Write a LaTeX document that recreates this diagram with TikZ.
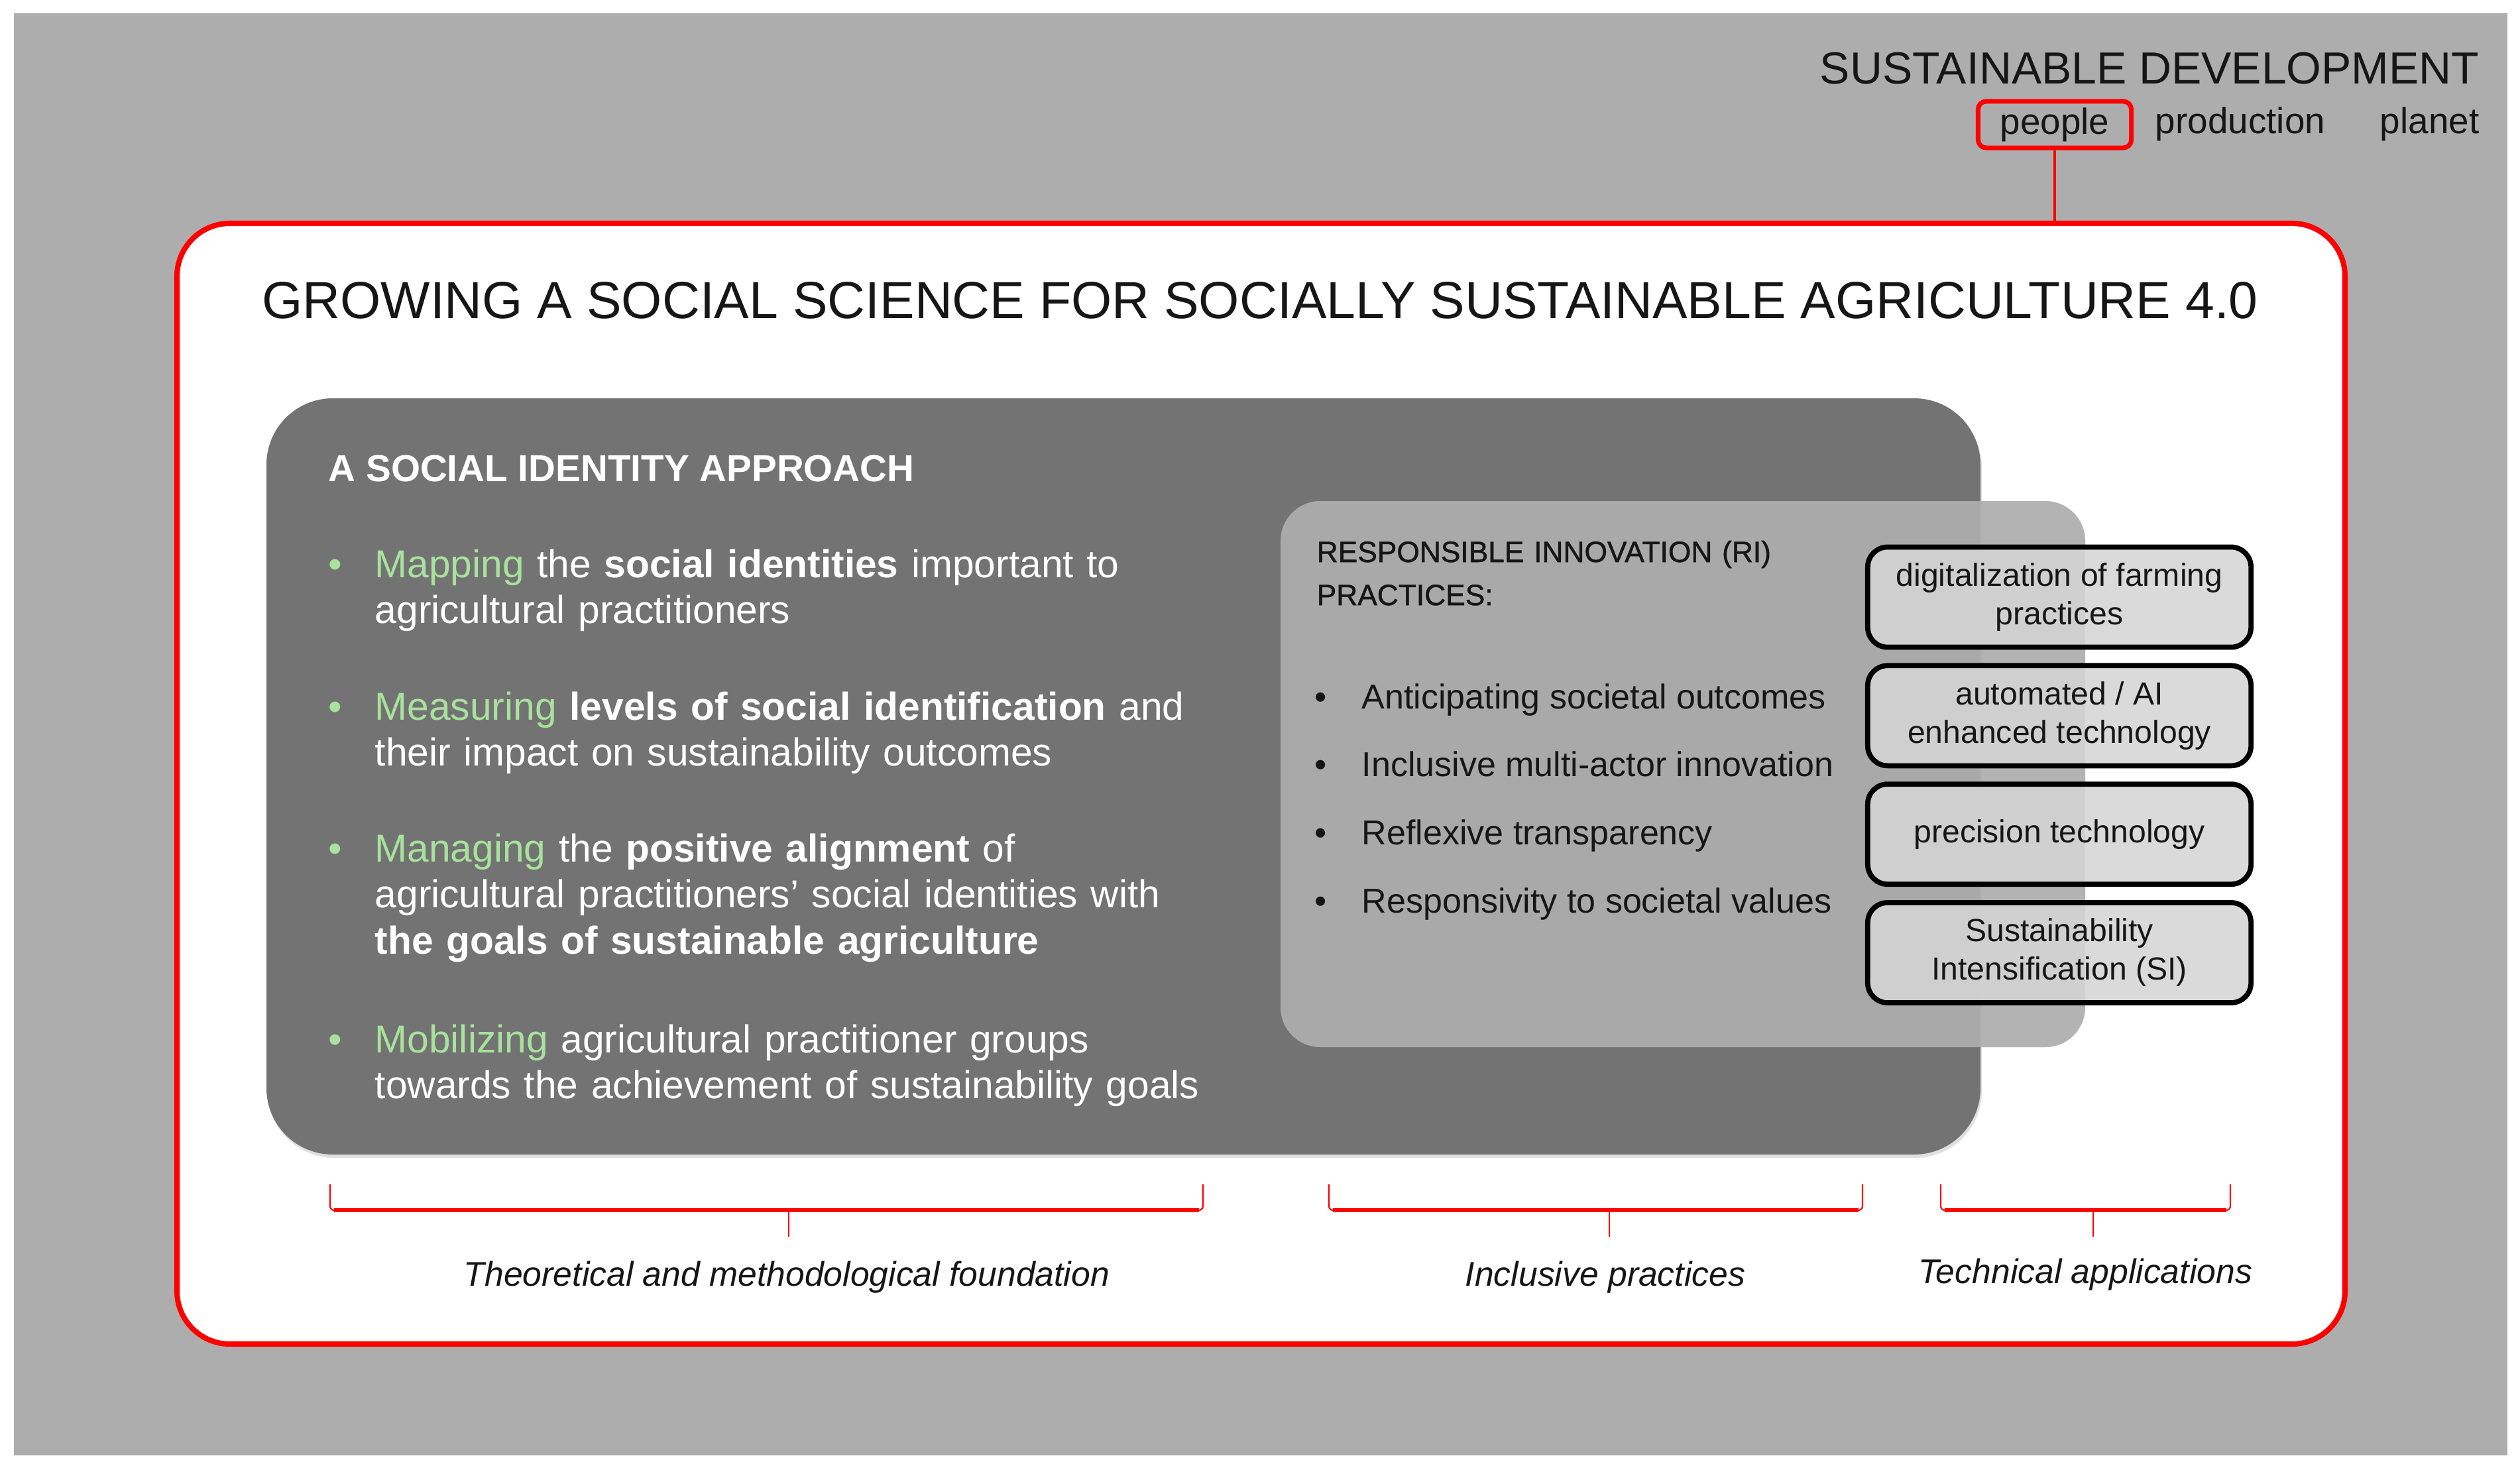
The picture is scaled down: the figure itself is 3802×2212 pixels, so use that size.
\documentclass[tikz,border=0pt]{standalone}
\usepackage{fontspec}
\setmainfont{Liberation Sans}
\usetikzlibrary{positioning}
\definecolor{bggray}{RGB}{173,173,173}
\definecolor{darkpanel}{RGB}{115,115,115}
\definecolor{ripanel}{RGB}{174,174,174}
\definecolor{techfill}{RGB}{213,213,213}
\definecolor{leafgreen}{RGB}{168,226,156}
\definecolor{signalred}{RGB}{255,0,0}
\definecolor{inkblack}{RGB}{22,22,22}

\tikzset{
  techbox/.style={draw=black, line width=2.2pt, rounded corners=0.3cm, fill=techfill,
    fill opacity=0.87, text opacity=1, minimum width=5.78cm, minimum height=1.51cm,
    inner sep=0pt, align=center, text=inkblack, font=\fontsize{13.7}{16.5}\selectfont},
  sitext/.style={anchor=base west, inner sep=0pt, text width=13.5cm, align=left,
    text=white, font=\fontsize{16.7}{19.9}\selectfont},
  ritext/.style={anchor=base west, inner sep=0pt, text=inkblack,
    font=\fontsize{14.8}{17.8}\selectfont},
  bracelabel/.style={anchor=base, inner sep=0pt, text=inkblack,
    font=\fontsize{14.7}{17}\selectfont\itshape},
  topword/.style={anchor=base, inner sep=0pt, text=inkblack,
    font=\fontsize{15.6}{18}\selectfont}
}

\begin{document}
\begin{tikzpicture}[x=0.01cm, y=-0.01cm]
  % page and grey ground
  \useasboundingbox (0,0) rectangle (3802,2212);
  \fill[white] (0,0) rectangle (3802,2212);
  \fill[bggray] (21,20) rectangle (3783,2196);

  % Sustainable development pillars
  \node[anchor=base east, inner sep=0pt, text=inkblack, font=\fontsize{19.3}{23}\selectfont]
    (sdev) at (3741,127) {SUSTAINABLE DEVELOPMENT};
  \node[draw=signalred, line width=2pt, rounded corners=0.12cm, minimum width=2.31cm,
    minimum height=0.7cm, inner sep=0pt, text=inkblack, font=\fontsize{15.6}{18}\selectfont]
    (people) at (3100,188) {people};
  \node[topword] (production) at (3380,202) {production};
  \node[topword, anchor=base east] (planet) at (3741,202) {planet};
  \coordinate (frametop) at (3100,337);
  \draw[signalred, line width=1.4pt] (people.south) -- (frametop);

  % outer frame
  \draw[signalred, line width=2.3pt, fill=white, rounded corners=0.8cm]
    (267,337) rectangle (3538,2028);
  \node[anchor=base, inner sep=0pt, text=inkblack, font=\fontsize{22.4}{26}\selectfont]
    (title) at (1901,480) {GROWING A SOCIAL SCIENCE FOR SOCIALLY SUSTAINABLE AGRICULTURE 4.0};

  % Social identity panel
  \fill[black!12, rounded corners=1cm] (404,606) rectangle (2990,1747);
  \fill[darkpanel, rounded corners=1cm] (402,601) rectangle (2988,1742);
  \node[anchor=base west, inner sep=0pt, text=white, font=\fontsize{16.1}{19}\selectfont\bfseries]
    (sihead) at (495,726) {A SOCIAL IDENTITY APPROACH};
  \foreach \y [count=\i] in {871,1086,1300,1588} {
    \node[anchor=base, inner sep=0pt, text=leafgreen, font=\fontsize{16.7}{19.9}\selectfont]
      (sidot\i) at (506,\y) {\textbullet};
  }
  \node[sitext] (mapping) at (565,871)
    {\textcolor{leafgreen}{Mapping} the \textbf{social identities} important to\\
     agricultural practitioners};
  \node[sitext] (measuring) at (565,1086)
    {\textcolor{leafgreen}{Measuring} \textbf{levels of social identification} and\\
     their impact on sustainability outcomes};
  \node[sitext] (managing) at (565,1300)
    {\textcolor{leafgreen}{Managing} the \textbf{positive alignment} of\\
     agricultural practitioners' social identities with\\
     \textbf{the goals of sustainable agriculture}};
  \node[sitext] (mobilizing) at (565,1588)
    {\textcolor{leafgreen}{Mobilizing} agricultural practitioner groups\\
     towards the achievement of sustainability goals};

  % RI practices panel
  \fill[ripanel, fill opacity=0.93, rounded corners=0.6cm] (1932,756) rectangle (3146,1580);
  \node[anchor=base west, inner sep=0pt, text width=7cm, align=left, text=inkblack,
    font=\fontsize{12.6}{18.5}\selectfont\addfontfeature{FakeBold=1.2}] (rihead) at (1986,848)
    {RESPONSIBLE INNOVATION (RI)\\PRACTICES:};
  \foreach \y/\t [count=\i] in {1069/Anticipating societal outcomes,
      1171/Inclusive multi-actor innovation, 1274/Reflexive transparency,
      1377/Responsivity to societal values} {
    \node[ritext, anchor=base] (ridot\i) at (1993,\y) {\textbullet};
    \node[ritext] (ri\i) at (2054,\y) {\t};
  }

  % technical applications
  \node[techbox] (digital) at (3107,901) {digitalization of farming\\practices};
  \node[techbox, below=0.2cm of digital] (automated) {automated / AI\\enhanced technology};
  \node[techbox, below=0.2cm of automated] (precision) {precision technology};
  \node[techbox, below=0.2cm of precision] (intens) {Sustainability\\Intensification (SI)};

  % braces
  \foreach \a/\b/\m in {498/1815/1190, 2005/2810/2428, 2928/3365/3158} {
    \draw[signalred, line width=0.6pt, rounded corners=0.06cm]
      (\a,1787) -- (\a,1826) -- (\b,1826) -- (\b,1787);
    \draw[signalred, line width=1.6pt] (\a+6,1826) -- (\b-6,1826);
    \draw[signalred, line width=0.6pt] (\m,1826) -- (\m,1866);
  }
  \node[bracelabel] (theory) at (1187,1940) {Theoretical and methodological foundation};
  \node[bracelabel] (inclusive) at (2422,1940) {Inclusive practices};
  \node[bracelabel] (technical) at (3146,1936) {Technical applications};
\end{tikzpicture}
\end{document}
